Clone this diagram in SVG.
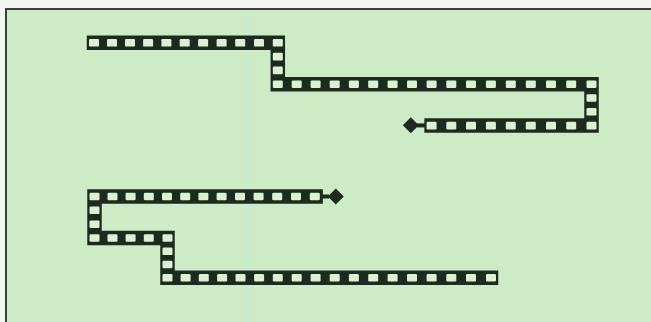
<svg xmlns="http://www.w3.org/2000/svg" xmlns:xlink="http://www.w3.org/1999/xlink" width="651" height="322" viewBox="0 0 651 322">
<style>
.body{fill:none;stroke:#1d2a1f;stroke-width:14.5;stroke-linejoin:miter;stroke-linecap:square}
.neck{fill:none;stroke:#1d2a1f;stroke-width:4}
.head{fill:#1d2a1f}
.cell{fill:#dcf1d4}
</style>
<defs>
<rect id="c" class="cell" x="-5" y="-3.8" width="10" height="7.6" rx="1.2"/>
</defs>
<rect x="0" y="0" width="651" height="322" fill="#f3f6f0"/>
<rect x="6" y="9" width="645" height="313" fill="#cdecc5"/>
<rect x="246" y="9" width="4" height="313" fill="#c6ebcf" opacity="0.8"/>
<path d="M6,322 V9 H651" fill="none" stroke="#3b3f3a" stroke-width="2"/>
<g id="snake-top">
<path class="body" d="M94,42.8 H277.8 V84.2 H591.5 V125.6 H431.6"/>
<line class="neck" x1="417" y1="125.4" x2="426" y2="125.4"/>
<polygon class="head" points="418.8,125.3 410.8,117.3 402.8,125.3 410.8,133.3"/>
<use xlink:href="#c" x="94" y="42.8"/><use xlink:href="#c" x="112" y="42.8"/><use xlink:href="#c" x="130" y="42.8"/><use xlink:href="#c" x="148.1" y="42.8"/><use xlink:href="#c" x="166.4" y="42.8"/><use xlink:href="#c" x="184.7" y="42.8"/><use xlink:href="#c" x="203.1" y="42.8"/><use xlink:href="#c" x="221.6" y="42.8"/><use xlink:href="#c" x="240.2" y="42.8"/><use xlink:href="#c" x="259" y="42.8"/><use xlink:href="#c" x="277.8" y="42.8"/>
<use xlink:href="#c" x="277.8" y="56.6"/><use xlink:href="#c" x="277.8" y="70.4"/>
<use xlink:href="#c" x="277.8" y="84.2"/><use xlink:href="#c" x="296.7" y="84.2"/><use xlink:href="#c" x="315.6" y="84.2"/><use xlink:href="#c" x="334.7" y="84.2"/><use xlink:href="#c" x="353.9" y="84.2"/><use xlink:href="#c" x="373.2" y="84.2"/><use xlink:href="#c" x="392.6" y="84.2"/><use xlink:href="#c" x="412" y="84.2"/><use xlink:href="#c" x="431.6" y="84.2"/><use xlink:href="#c" x="451.3" y="84.2"/><use xlink:href="#c" x="471" y="84.2"/><use xlink:href="#c" x="490.9" y="84.2"/><use xlink:href="#c" x="510.8" y="84.2"/><use xlink:href="#c" x="530.8" y="84.2"/><use xlink:href="#c" x="551" y="84.2"/><use xlink:href="#c" x="571.2" y="84.2"/><use xlink:href="#c" x="591.5" y="84.2"/>
<use xlink:href="#c" x="591.5" y="98"/><use xlink:href="#c" x="591.5" y="111.8"/>
<use xlink:href="#c" x="431.6" y="125.6"/><use xlink:href="#c" x="451.3" y="125.6"/><use xlink:href="#c" x="471" y="125.6"/><use xlink:href="#c" x="490.9" y="125.6"/><use xlink:href="#c" x="510.8" y="125.6"/><use xlink:href="#c" x="530.8" y="125.6"/><use xlink:href="#c" x="551" y="125.6"/><use xlink:href="#c" x="571.2" y="125.6"/><use xlink:href="#c" x="591.5" y="125.6"/>
</g>
<g id="snake-bottom">
<path class="body" d="M315.6,196.5 H94.5 V238 H167.5 V277.7 H491"/>
<line class="neck" x1="321" y1="196.5" x2="329" y2="196.5"/>
<polygon class="head" points="343.8,196.5 335.8,188.5 327.8,196.5 335.8,204.5"/>
<use xlink:href="#c" x="94.5" y="196.5"/><use xlink:href="#c" x="112.5" y="196.5"/><use xlink:href="#c" x="130.6" y="196.5"/><use xlink:href="#c" x="148.8" y="196.5"/><use xlink:href="#c" x="167" y="196.5"/><use xlink:href="#c" x="185.2" y="196.5"/><use xlink:href="#c" x="203.4" y="196.5"/><use xlink:href="#c" x="221.6" y="196.5"/><use xlink:href="#c" x="240" y="196.5"/><use xlink:href="#c" x="258.6" y="196.5"/><use xlink:href="#c" x="277.2" y="196.5"/><use xlink:href="#c" x="296" y="196.5"/><use xlink:href="#c" x="314.8" y="196.5"/>
<use xlink:href="#c" x="94.5" y="210.3"/><use xlink:href="#c" x="94.5" y="224.2"/>
<use xlink:href="#c" x="94.5" y="238"/><use xlink:href="#c" x="112.5" y="238"/><use xlink:href="#c" x="130.6" y="238"/><use xlink:href="#c" x="148.8" y="238"/><use xlink:href="#c" x="167.5" y="238"/>
<use xlink:href="#c" x="167.5" y="251.3"/><use xlink:href="#c" x="167.5" y="264.5"/>
<use xlink:href="#c" x="167.5" y="277.7"/><use xlink:href="#c" x="185.6" y="277.7"/><use xlink:href="#c" x="203.8" y="277.7"/><use xlink:href="#c" x="222.1" y="277.7"/><use xlink:href="#c" x="240.5" y="277.7"/><use xlink:href="#c" x="259.1" y="277.7"/><use xlink:href="#c" x="277.8" y="277.7"/><use xlink:href="#c" x="296.7" y="277.7"/><use xlink:href="#c" x="315.6" y="277.7"/><use xlink:href="#c" x="334.7" y="277.7"/><use xlink:href="#c" x="353.9" y="277.7"/><use xlink:href="#c" x="373.2" y="277.7"/><use xlink:href="#c" x="392.6" y="277.7"/><use xlink:href="#c" x="412" y="277.7"/><use xlink:href="#c" x="431.6" y="277.7"/><use xlink:href="#c" x="451.3" y="277.7"/><use xlink:href="#c" x="471" y="277.7"/><use xlink:href="#c" x="491" y="277.7"/>
</g>
</svg>
